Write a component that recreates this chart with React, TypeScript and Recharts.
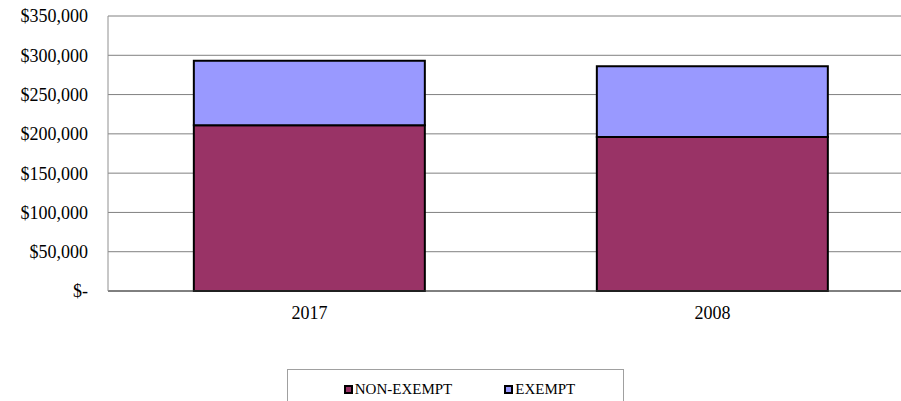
import { BarChart, Bar, XAxis, YAxis, CartesianGrid, Legend } from 'recharts';

// stacked payroll totals by year
const YEARS = ['2017', '2008'];
const NON_EXEMPT = [211000, 196000];
const EXEMPT = [82000, 90000];
const Y_TICKS = [0, 50000, 100000, 150000, 200000, 250000, 300000, 350000];

const SERIES = [
  { key: 'nonExempt', name: 'NON-EXEMPT', color: '#993366' },
  { key: 'exempt', name: 'EXEMPT', color: '#9999FF' },
];

const FONT = '"Liberation Serif", "Times New Roman", serif';

const data = YEARS.map((year, i) => ({
  year,
  nonExempt: NON_EXEMPT[i],
  exempt: EXEMPT[i],
}));

const fmtMoney = (v: number) => (v === 0 ? '$-' : '$' + v.toLocaleString('en-US'));

function LegendBox() {
  return (
    <div
      style={{
        border: '1px solid #a0a0a0',
        height: 40,
        boxSizing: 'border-box',
        display: 'flex',
        justifyContent: 'center',
        paddingTop: 11,
        paddingLeft: 8,
        gap: 52,
        fontFamily: FONT,
        fontSize: 15,
        color: '#000',
        background: '#fff',
      }}
    >
      {SERIES.map((s) => (
        <div key={s.key} style={{ display: 'flex', alignItems: 'center', height: 17 }}>
          <span
            style={{
              display: 'inline-block',
              width: 9,
              height: 9,
              boxSizing: 'border-box',
              border: '2px solid #000',
              background: s.color,
              marginRight: 2,
            }}
          />
          <span>{s.name}</span>
        </div>
      ))}
    </div>
  );
}

export default function App() {
  return (
    <div
      style={{
        position: 'absolute',
        left: 0,
        top: 0,
        width: 901,
        height: 401,
        overflow: 'hidden',
        background: '#fff',
      }}
    >
      <BarChart
        width={914}
        height={401}
        data={data}
        margin={{ top: 16, right: 0, left: 0, bottom: 80 }}
        barCategoryGap="21.3%"
      >
        <CartesianGrid vertical={false} stroke="#808080" strokeWidth={1} />
        <XAxis
          dataKey="year"
          tickLine={false}
          tickSize={0}
          tickMargin={15}
          axisLine={{ stroke: '#404040' }}
          tick={{ fill: '#000', fontSize: 18, fontFamily: FONT }}
        />
        <YAxis
          width={108}
          domain={[0, 350000]}
          ticks={Y_TICKS}
          interval={0}
          tickFormatter={fmtMoney}
          tickLine={false}
          tickSize={0}
          tickMargin={20}
          axisLine={{ stroke: '#909090' }}
          tick={{ fill: '#000', fontSize: 18, fontFamily: FONT }}
        />
        <Legend
          verticalAlign="middle"
          align="center"
          layout="horizontal"
          wrapperStyle={{ position: 'absolute', top: 369, left: 287, width: 337, height: 40 }}
          content={() => <LegendBox />}
        />
        {SERIES.map((s) => (
          <Bar
            key={s.key}
            dataKey={s.key}
            name={s.name}
            stackId="total"
            fill={s.color}
            stroke="#000"
            strokeWidth={2}
            isAnimationActive={false}
          />
        ))}
      </BarChart>
    </div>
  );
}
